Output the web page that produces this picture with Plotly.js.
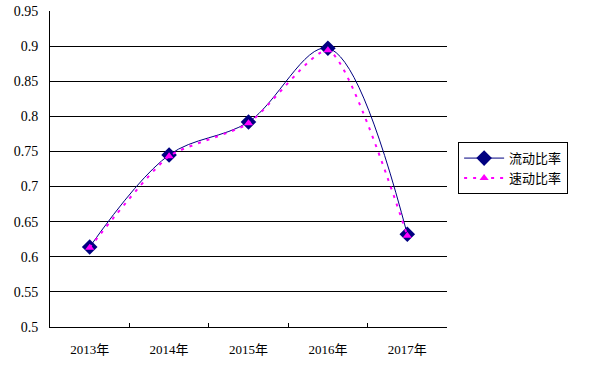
<!DOCTYPE html>
<html>
<head>
<meta charset="utf-8">
<script src="https://cdn.plot.ly/plotly-3.0.1.min.js"></script>
<style>html,body{margin:0;padding:0;background:#fff;}#chart{width:606px;height:367px;}</style>
</head>
<body>
<div id="chart"></div>
<script>
const years = ["2013年", "2014年", "2015年", "2016年", "2017年"];
const currentRatio = [0.614, 0.745, 0.792, 0.897, 0.632];
const quickRatio = [0.613, 0.743, 0.790, 0.894, 0.630];
const seriesNames = ["流动比率", "速动比率"];

const fontFamily = '"Liberation Serif", "Times New Roman", "Noto Sans CJK SC", serif';

const traces = [
  {
    x: years, y: currentRatio, name: seriesNames[0], type: "scatter", mode: "lines+markers",
    line: {color: "#000080", width: 1, shape: "spline", smoothing: 1},
    marker: {symbol: "diamond", size: 12, color: "#000080"}
  },
  {
    x: years, y: quickRatio, name: seriesNames[1], type: "scatter", mode: "lines+markers",
    line: {color: "#FF00FF", width: 2, dash: "3px,6px", shape: "spline", smoothing: 0.6},
    marker: {symbol: "triangle-up", size: 8, color: "#FF00FF"}
  }
];

const layout = {
  width: 606, height: 367,
  margin: {l: 50, r: 159, t: 11, b: 40},
  paper_bgcolor: "#fff", plot_bgcolor: "#fff",
  font: {family: fontFamily, size: 13, color: "#000"},
  showlegend: true,
  legend: {
    x: 1.028, y: 0.585, xanchor: "left", yanchor: "top",
    bordercolor: "#000", borderwidth: 1, bgcolor: "#fff",
    font: {family: '"Noto Sans CJK SC", sans-serif', size: 13, color: "#000"},
    tracegroupgap: 0, itemwidth: 40
  },
  xaxis: {
    type: "category", range: [-0.5, 4.5],
    showline: true, linecolor: "#000", linewidth: 1,
    ticks: "inside", ticklen: 4, tickcolor: "#000", tickson: "boundaries",
    showgrid: false, zeroline: false,
    tickfont: {family: fontFamily, size: 13, color: "#000"},
    ticklabelstandoff: 10,
    fixedrange: true
  },
  yaxis: {
    range: [0.5, 0.95], dtick: 0.05, tick0: 0.5,
    showline: true, linecolor: "#000", linewidth: 1,
    ticks: "", showgrid: true, gridcolor: "#000", gridwidth: 1, zeroline: false,
    tickfont: {family: fontFamily, size: 14, color: "#000"},
    ticklabelstandoff: 8,
    fixedrange: true
  }
};

Plotly.newPlot("chart", traces, layout, {displayModeBar: false, staticPlot: true});
</script>
</body>
</html>
